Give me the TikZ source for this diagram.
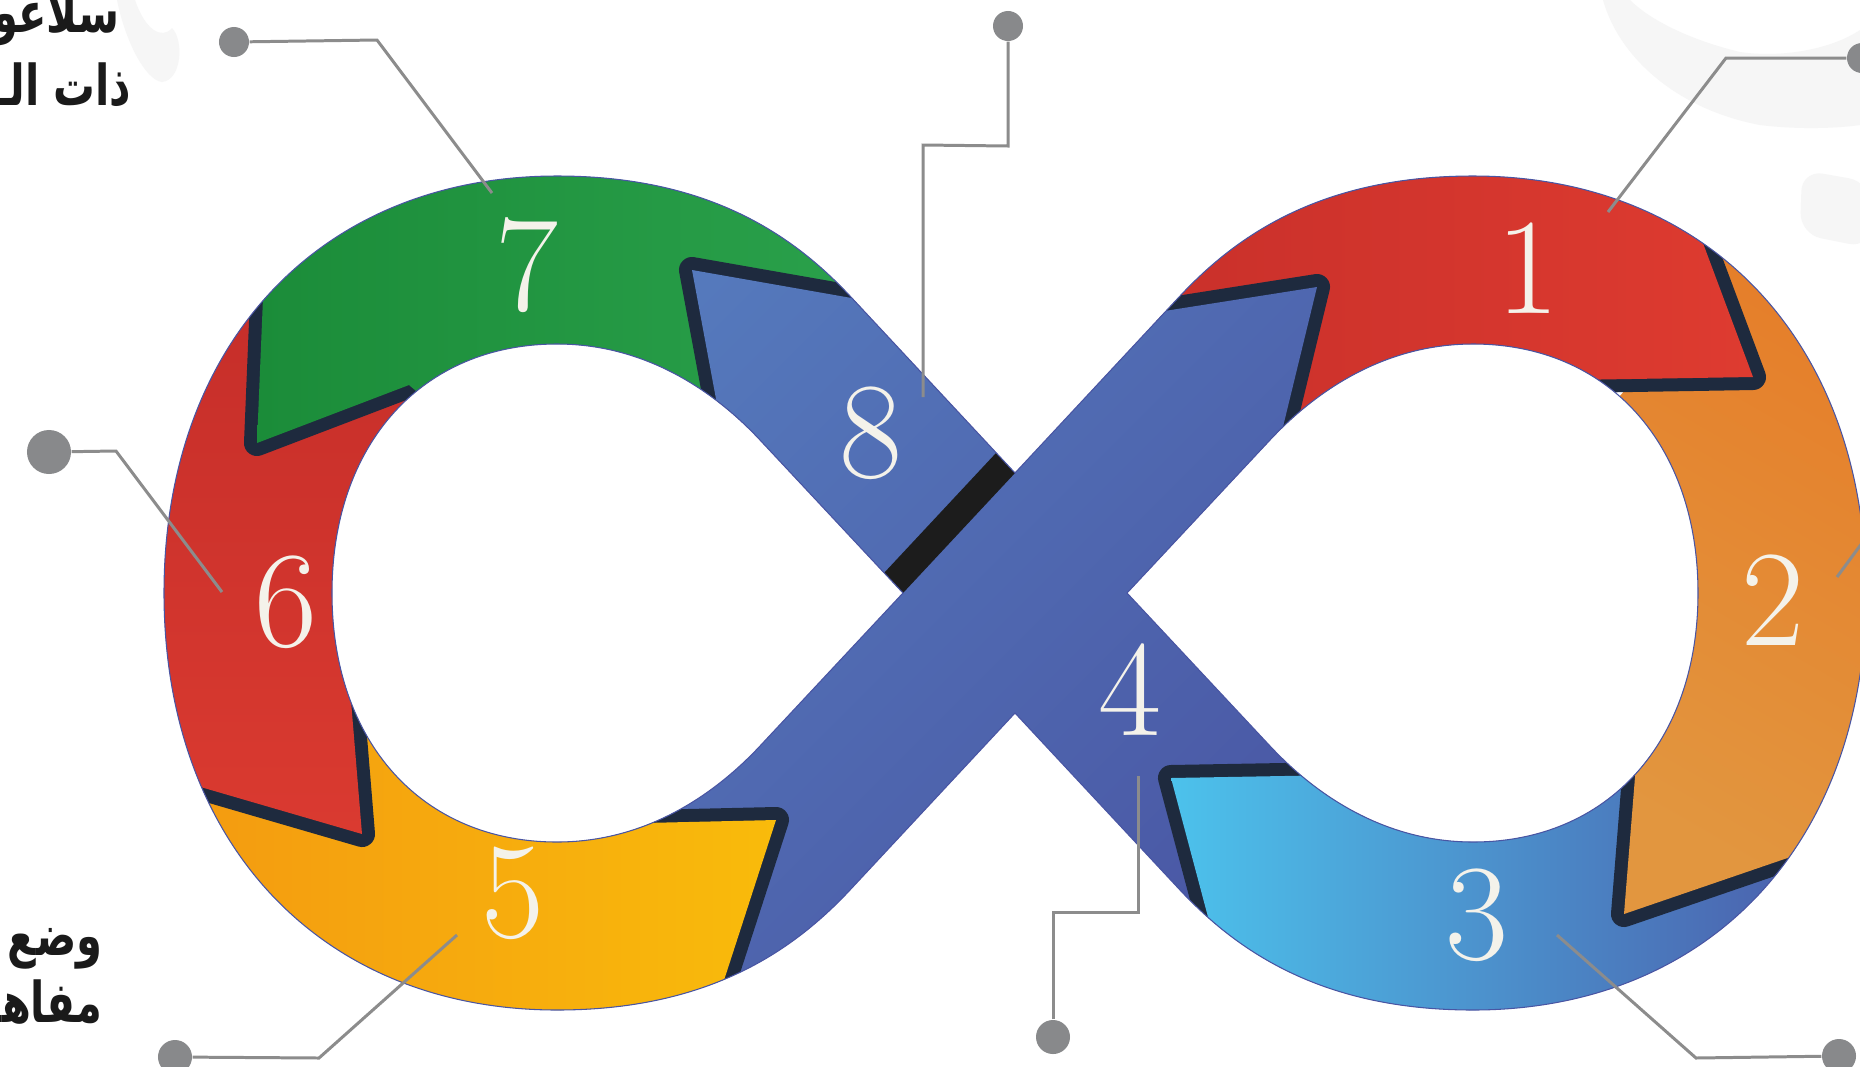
\documentclass[tikz,border=0pt]{standalone}
\usepackage{fontspec}
\usepackage{xcolor}
\usepackage{tikz}
\usetikzlibrary{positioning}
\newfontfamily\arabicfont[Script=Arabic, FakeStretch=0.74]{DejaVu Sans}
\TeXXeTstate=1
\definecolor{bandhi}{HTML}{5579BC}
\definecolor{bandlo}{HTML}{4955A3}
\definecolor{navy}{HTML}{1E2A3E}
\definecolor{barblack}{HTML}{1C1C1C}
\definecolor{redL}{HTML}{C72F2A}
\definecolor{redR}{HTML}{DE3B30}
\definecolor{orgT}{HTML}{E67A26}
\definecolor{orgB}{HTML}{E2963F}
\definecolor{cyanL}{HTML}{4CC2EC}
\definecolor{cyanM}{HTML}{4A7BC0}
\definecolor{cyanR}{HTML}{4B56A6}
\definecolor{ambL}{HTML}{F39611}
\definecolor{ambR}{HTML}{F9BB0B}
\definecolor{redT}{HTML}{C42D29}
\definecolor{redB}{HTML}{DA3A30}
\definecolor{grnL}{HTML}{1B8C39}
\definecolor{grnR}{HTML}{2BA24C}
\definecolor{numwhite}{HTML}{F4F2EA}
\definecolor{linegray}{HTML}{8C8C8C}
\definecolor{dotgray}{HTML}{88898B}
\definecolor{ink}{HTML}{1A1A1A}
\definecolor{faint}{HTML}{F6F6F6}
% outline of the loop, two holes included
\newcommand{\infinityoutline}{(1015,473) -- (850,296) .. controls (792,234) and (707,176) .. (557,176)
  .. controls (321,176) and (164,343) .. (164,593) .. controls (164,843) and (321,1010) .. (557,1010)
  .. controls (707,1010) and (792,952) .. (850,890) -- (1015,713) -- (1180,890)
  .. controls (1238,952) and (1323,1010) .. (1473,1010) .. controls (1709,1010) and (1866,843) .. (1866,593)
  .. controls (1866,343) and (1709,176) .. (1473,176) .. controls (1323,176) and (1238,234) .. (1180,296) -- cycle
  (903,593) -- (760,440) .. controls (715.6,392.5) and (647,344) .. (557,344)
  .. controls (422,344) and (332,444) .. (332,593) .. controls (332,742) and (422,842) .. (557,842)
  .. controls (647,842) and (715.6,793.5) .. (760,746) -- cycle
  (1127,593) -- (1270,440) .. controls (1314.4,392.5) and (1383,344) .. (1473,344)
  .. controls (1608,344) and (1698,444) .. (1698,593) .. controls (1698,742) and (1608,842) .. (1473,842)
  .. controls (1383,842) and (1314.4,793.5) .. (1270,746) -- cycle}
\newcommand{\bandfill}{\shade[top color=bandhi, bottom color=bandlo, shading angle=45] (560,170) rectangle (1470,1015);}
\tikzset{
  num/.style      ={text=numwhite, font=\fontsize{39}{39}\selectfont, inner sep=0pt},
  dot/.style      ={circle, fill=dotgray, inner sep=0pt, minimum size=#1},
  dot/.default    =3mm,
  leader/.style   ={draw=linegray, line width=0.85pt},
  tipshadow/.style={draw=navy, line width=7.4pt, line join=round},
  arlabel/.style  ={font=\arabicfont\bfseries\fontsize{16}{18}\selectfont, text=ink, inner sep=0pt, anchor=base east},
  faintblob/.style={fill=faint},
}

\begin{document}
\begin{tikzpicture}[x=0.01cm, y=-0.01cm]
\useasboundingbox (0,0) rectangle (1860,1066);
\fill[white] (0,0) rectangle (1860,1066);
% faint backdrop
\fill[faintblob] (1603,0) .. controls (1620,60) and (1680,110) .. (1760,125) .. controls (1800,130) and (1840,128) .. (1860,125)
  -- (1860,30) .. controls (1830,50) and (1780,58) .. (1740,52) .. controls (1690,40) and (1650,20) .. (1630,0) -- cycle;
\fill[faintblob, rounded corners=6pt] (1802,170) -- (1870,182) -- (1870,248) -- (1800,234) -- cycle;
\fill[faintblob] (117,0) .. controls (125,40) and (145,80) .. (162,82) .. controls (182,80) and (184,40) .. (172,28)
  .. controls (162,40) and (145,30) .. (135,0) -- cycle;
% the loop
\begin{scope}[even odd rule]
\clip \infinityoutline;
\bandfill
% right loop: 3, 2, 1, band tip
\draw[tipshadow] (1340,775) -- (1171,778) -- (1220,962);
\shade[left color=cyanL, middle color=cyanM, right color=cyanR] (1660,700) -- (1700,875) -- (1870,830) -- (1870,1100)
  -- (1220,1100) -- (1220,962) -- (1171,778) -- (1340,775) -- (1500,780) -- cycle;
\draw[tipshadow] (1642,690) -- (1624,914) -- (1840,840);
\shade[top color=orgT, bottom color=orgB, shading angle=-30] (1640,150) -- (1700,300) -- (1600,420) -- (1650,600)
  -- (1642,690) -- (1624,914) -- (1840,840) -- (1950,600) -- (1800,150) -- cycle;
\draw[tipshadow] (1570,380) -- (1753,377) -- (1685,195);
\shade[left color=redL, right color=redR] (1100,250) -- (1160,340) -- (1200,400) -- (1272,472) -- (1400,420)
  -- (1570,380) -- (1753,377) -- (1685,195) -- (1500,120) -- (1100,120) -- cycle;
\draw[tipshadow] (1120,318) -- (1317,287) -- (1272,472);
\begin{scope}
\clip (1120,318) -- (1317,287) -- (1272,472) -- (1127,593) -- (1015,593) -- cycle;
\bandfill
\end{scope}
% left loop: 5, 6, 7, band tip
\draw[tipshadow] (600,824) -- (776,820) -- (715,1008);
\shade[left color=ambL, right color=ambR] (120,700) -- (260,740) -- (340,700) -- (400,700) -- (500,800)
  -- (600,824) -- (776,820) -- (715,1008) -- (600,1100) -- (100,1100) -- cycle;
\draw[tipshadow] (346,640) -- (362,834) -- (180,781);
\shade[top color=redT, bottom color=redB] (200,250) -- (275,300) -- (330,380) -- (400,370) -- (460,340) -- (500,400)
  -- (420,550) -- (346,640) -- (362,834) -- (180,781) -- (100,600) -- (100,250) -- cycle;
\draw[tipshadow] (450,420) -- (409,385) -- (257,443) -- (265,250);
\shade[left color=grnL, right color=grnR] (900,250) -- (860,340) -- (760,350) -- (740,470) -- (600,500) -- (450,420)
  -- (409,385) -- (257,443) -- (265,250) -- (300,100) -- (900,100) -- cycle;
\draw[tipshadow] (880,303) -- (692,270) -- (727,458);
\begin{scope}
\clip (880,303) -- (692,270) -- (727,458) -- (903,593) -- (1015,473) -- cycle;
\bandfill
\end{scope}
% crossing
\fill[barblack] (1015,473) -- (903,593) -- (884,573) -- (996,453) -- cycle;
\end{scope}
\draw[bandlo, line width=0.3pt] \infinityoutline;
% step numbers
\node[num] (n1) at (1528,268) {1};
\node[num] (n2) at (1773,600) {2};
\node[num] (n3) at (1477,915) {3};
\node[num] (n4) at (1130,690) {4};
\node[num] (n5) at (513,893) {5};
\node[num] (n6) at (286,602) {6};
\node[num] (n7) at (527,265) {7};
\node[num] (n8) at (871,433) {8};
% leaders
\node[dot] (dA) at (234,42) {};
\node[dot] (dB) at (1008,26) {};
\node[dot] (dC) at (1862,58) {};
\node[dot=4.4mm] (dD) at (49,452) {};
\node[dot=3.4mm] (dF) at (175,1057) {};
\node[dot=3.4mm] (dG) at (1053,1037) {};
\node[dot=3.4mm] (dH) at (1839,1056) {};
\coordinate (eA) at (492,193);
\coordinate (eB) at (923,397);
\coordinate (eC) at (1608,212);
\coordinate (eD) at (222,592);
\coordinate (eE) at (1837,577);
\coordinate (cE) at (1890,505);
\coordinate (eF) at (457,935);
\coordinate (eG) at (1138,776);
\coordinate (eH) at (1557,935);
\draw[leader] (dA) -- (377,40) -- (eA);
\draw[leader] (dB) -- (1008,146) -- (923,145) -- (eB);
\draw[leader] (dC) -- (1726,58) -- (eC);
\draw[leader] (dD) -- (116,451) -- (eD);
\draw[leader] (cE) -- (eE);
\draw[leader] (dF) -- (319,1058) -- (eF);
\draw[leader] (dG) -- (1053,912) -- (1138,912) -- (eG);
\draw[leader] (dH) -- (1696,1058) -- (eH);
% side texts
\node[arlabel] (tl1) at (120,32) {\beginR سلاعو\endR};
\node[arlabel] (tl2) at (132,105) {\beginR ذات الـ\endR};
\node[arlabel] (bl1) at (103,955) {\beginR وضع\endR};
\node[arlabel] (bl2) at (103,1022) {\beginR مفاهـ\endR};
\end{tikzpicture}
\end{document}
